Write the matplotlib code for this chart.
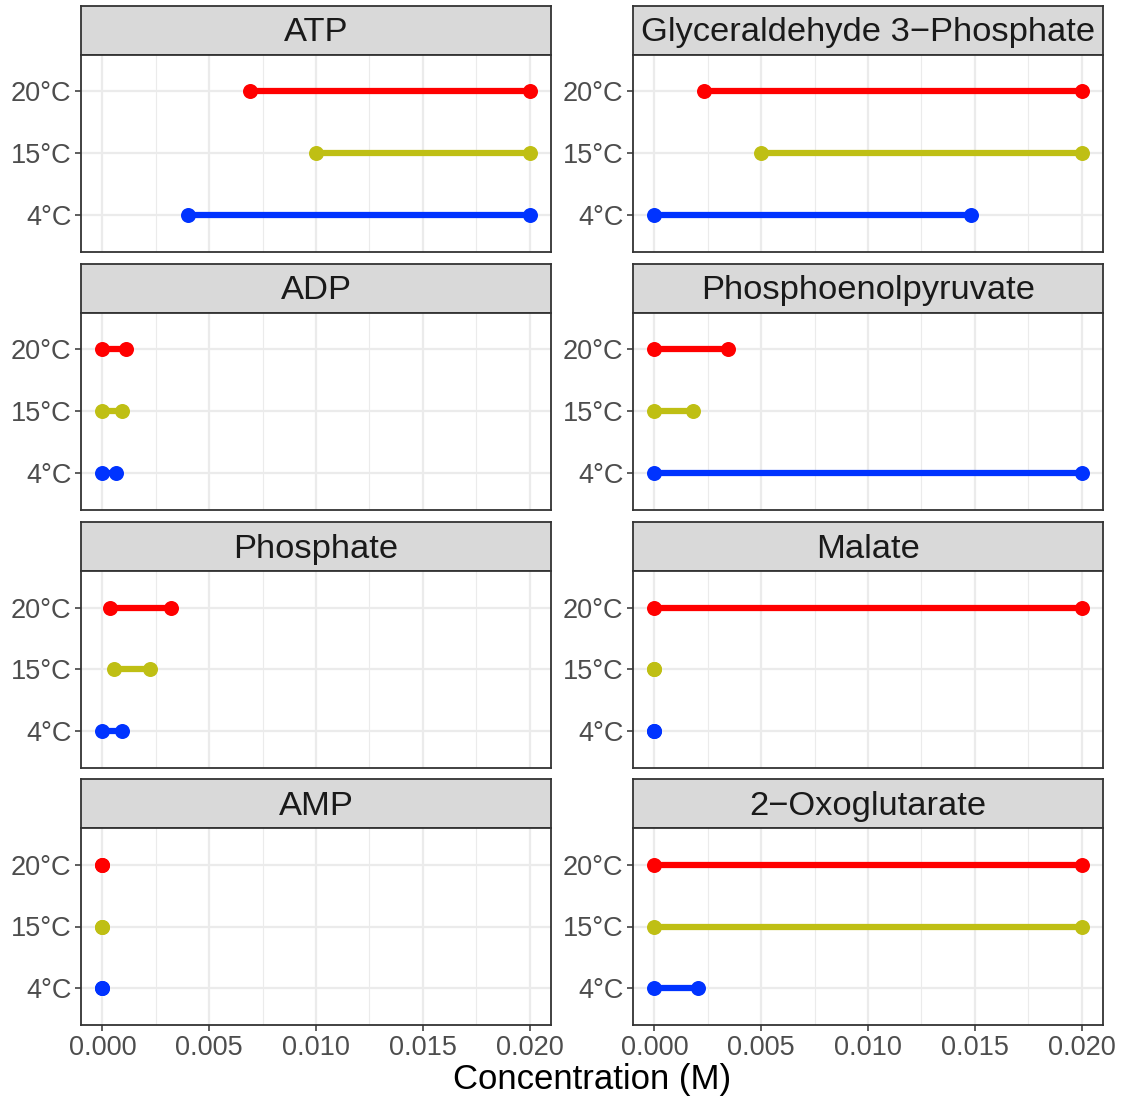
import matplotlib
matplotlib.use('Agg')
import matplotlib.pyplot as plt

plt.rcParams['font.family'] = ['Liberation Sans', 'DejaVu Sans']

# Data: ranges of concentration (M) per metabolite and temperature
metabolites = ['ATP', 'Glyceraldehyde 3\u2212Phosphate', 'ADP', 'Phosphoenolpyruvate',
               'Phosphate', 'Malate', 'AMP', '2\u2212Oxoglutarate']
temps = ['4°C', '15°C', '20°C']

low_4 = [0.0040, 0.0, 0.0, 0.0, 0.0, 0.0, 0.0, 0.0]
high_4 = [0.0200, 0.0148, 0.00065, 0.0200, 0.00093, 0.0, 0.0, 0.00206]
low_15 = [0.0100, 0.0050, 0.0, 0.0, 0.00056, 0.0, 0.0, 0.0]
high_15 = [0.0200, 0.0200, 0.00093, 0.00182, 0.00224, 0.0, 0.0, 0.0200]
low_20 = [0.0069, 0.0023, 0.0, 0.0, 0.00037, 0.0, 0.0, 0.0]
high_20 = [0.0200, 0.0200, 0.00112, 0.00346, 0.00322, 0.0200, 0.0, 0.0200]

colors = ['#0033FF', '#BFBF14', '#FF0000']
x_ticks = [0.0, 0.005, 0.010, 0.015, 0.020]
x_tick_labels = ['0.000', '0.005', '0.010', '0.015', '0.020']

W, H = 1127, 1102
fig = plt.figure(figsize=(W / 100, H / 100), dpi=100)


def add_box(x0, y0, x1, y1):
    return fig.add_axes([x0 / W, 1 - y1 / H, (x1 - x0) / W, (y1 - y0) / H])


col_x = [(81, 551), (633, 1103)]
row_top = [5.5, 263.5, 521.7, 779]
strip_h = 49
panel_h = 197

for i, name in enumerate(metabolites):
    r, c = divmod(i, 2)
    x0, x1 = col_x[c]
    st = row_top[r]

    # strip
    sax = add_box(x0, st, x1, st + strip_h)
    sax.set_facecolor('#D9D9D9')
    sax.set_xticks([])
    sax.set_yticks([])
    for sp in sax.spines.values():
        sp.set_color('#333333')
        sp.set_linewidth(1.3)
    sax.text(0.5, 0.44, name, ha='center', va='center', fontsize=24.8,
             color='#1A1A1A', transform=sax.transAxes)

    # panel
    ax = add_box(x0, st + strip_h, x1, st + strip_h + panel_h)
    lows = [low_4[i], low_15[i], low_20[i]]
    highs = [high_4[i], high_15[i], high_20[i]]
    for k in range(3):
        ax.plot([lows[k], highs[k]], [k + 1, k + 1], color=colors[k], lw=4.5,
                solid_capstyle='butt', zorder=3)
        ax.plot([lows[k], highs[k]], [k + 1, k + 1], 'o', color=colors[k],
                ms=10.8, mec='none', zorder=4)

    ax.set_xlim(-0.001, 0.021)
    ax.set_ylim(0.4, 3.6)
    ax.set_xticks(x_ticks)
    ax.set_xticks([0.0025, 0.0075, 0.0125, 0.0175], minor=True)
    ax.set_yticks([1, 2, 3])
    ax.set_yticklabels(temps)
    ax.grid(True, which='major', color='#EBEBEB', lw=1.6, zorder=0)
    ax.grid(True, which='minor', axis='x', color='#EBEBEB', lw=0.8, zorder=0)
    ax.set_axisbelow(True)
    ax.tick_params(axis='y', which='major', length=4, width=1.1, color='#333333',
                   labelsize=19.5, labelcolor='#4D4D4D', pad=3)
    ax.tick_params(axis='x', which='minor', length=0)
    if r == 3:
        ax.set_xticklabels(x_tick_labels)
        ax.tick_params(axis='x', which='major', length=4, width=1.1,
                       color='#333333', labelsize=19.5, labelcolor='#4D4D4D', pad=3)
    else:
        ax.tick_params(axis='x', which='major', length=0, labelbottom=False)
    for sp in ax.spines.values():
        sp.set_color('#333333')
        sp.set_linewidth(1.3)

fig.text(592 / W, 1 - 1079 / H, 'Concentration (M)', ha='center', va='center',
         fontsize=25, color='black')

fig.savefig('out.png', dpi=100, facecolor='white')
